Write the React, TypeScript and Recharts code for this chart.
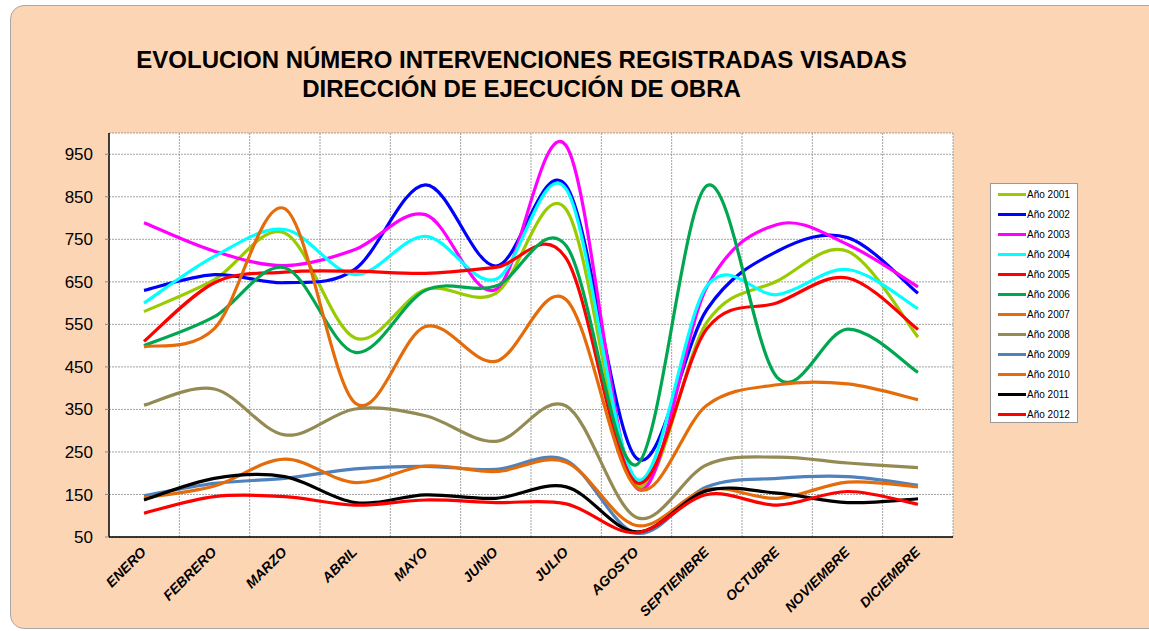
import React from 'react';
import { LineChart, Line, XAxis, YAxis, CartesianGrid, Legend } from 'recharts';

const months = ['ENERO', 'FEBRERO', 'MARZO', 'ABRIL', 'MAYO', 'JUNIO', 'JULIO', 'AGOSTO', 'SEPTIEMBRE', 'OCTUBRE', 'NOVIEMBRE', 'DICIEMBRE'];
const years = ['Año 2001', 'Año 2002', 'Año 2003', 'Año 2004', 'Año 2005', 'Año 2006', 'Año 2007', 'Año 2008', 'Año 2009', 'Año 2010', 'Año 2011', 'Año 2012'];
const colors = ['#99CC00', '#0000FF', '#FF00FF', '#00FFFF', '#FF0000', '#00A650', '#E46C0A', '#948A54', '#4F81BD', '#E46C0A', '#000000', '#FF0000'];

const y2001 = [580, 655, 765, 518, 632, 623, 820, 172, 555, 652, 722, 520];
const y2002 = [630, 667, 648, 680, 878, 687, 876, 235, 585, 722, 754, 623];
const y2003 = [789, 722, 688, 726, 808, 632, 970, 165, 638, 785, 738, 638];
const y2004 = [600, 710, 773, 667, 757, 656, 868, 186, 640, 620, 679, 587];
const y2005 = [510, 648, 673, 675, 670, 684, 705, 178, 540, 601, 659, 538];
const y2006 = [500, 568, 683, 484, 630, 640, 735, 220, 876, 425, 539, 437];
const y2007 = [497, 540, 822, 365, 545, 463, 608, 166, 360, 408, 410, 373];
const y2008 = [360, 398, 290, 351, 335, 275, 358, 96, 220, 238, 224, 213];
const y2009 = [147, 176, 188, 210, 216, 209, 230, 59, 168, 188, 192, 172];
const y2010 = [142, 170, 233, 178, 217, 204, 226, 77, 162, 141, 179, 168];
const y2011 = [137, 188, 192, 131, 149, 141, 168, 62, 159, 153, 131, 140];
const y2012 = [106, 145, 145, 125, 137, 131, 128, 60, 150, 125, 157, 127];

const series = [y2001, y2002, y2003, y2004, y2005, y2006, y2007, y2008, y2009, y2010, y2011, y2012];
const yTicks = [50, 150, 250, 350, 450, 550, 650, 750, 850, 950];

const data = months.map((mes, i) => {
  const row: Record<string, any> = { mes };
  years.forEach((y, j) => { row[y] = series[j][i]; });
  return row;
});

// smooth curve through the points, like Excel's "smoothed line"
const smoothCurve = (context: any) => {
  let pts: number[][] = [];
  return {
    areaStart() {},
    areaEnd() {},
    lineStart() { pts = []; },
    point(x: number, y: number) { pts.push([+x, +y]); },
    lineEnd() {
      if (!pts.length) return;
      context.moveTo(pts[0][0], pts[0][1]);
      for (let i = 0; i < pts.length - 1; i++) {
        const p0 = pts[i - 1] || pts[i];
        const p1 = pts[i];
        const p2 = pts[i + 1];
        const p3 = pts[i + 2] || p2;
        context.bezierCurveTo(
          p1[0] + (p2[0] - p0[0]) / 6, p1[1] + (p2[1] - p0[1]) / 6,
          p2[0] - (p3[0] - p1[0]) / 6, p2[1] - (p3[1] - p1[1]) / 6,
          p2[0], p2[1]
        );
      }
    },
  };
};

const MonthTick = (props: any) => {
  const { x, y, payload } = props;
  const ax = x + 3;
  const ay = y + 8;
  return (
    <text x={ax} y={ay} transform={`rotate(-45 ${ax} ${ay})`} textAnchor="end"
      fontSize={14} fontWeight="bold" fontStyle="italic" fill="#000" fontFamily="'Liberation Sans', Arial, sans-serif">
      {payload.value}
    </text>
  );
};

const LegendBox = (props: any) => {
  const items = props.payload || [];
  return (
    <div style={{ width: 88, height: 240, background: '#fff', border: '1px solid #999', boxSizing: 'border-box', paddingTop: 0, fontFamily: "'Liberation Sans', Arial, sans-serif" }}>
      {items.map((it: any) => (
        <div key={it.value} style={{ display: 'flex', alignItems: 'center', height: 20 }}>
          <div style={{ width: 28, height: 3, background: it.color, marginLeft: 7 }} />
          <span style={{ fontSize: 10, marginLeft: 1, color: '#000' }}>{it.value}</span>
        </div>
      ))}
    </div>
  );
};

export default function App() {
  return (
    <div style={{ position: 'absolute', left: 0, top: 0, width: 1149, height: 631, overflow: 'hidden', background: '#fff' }}>
      <div style={{ position: 'absolute', left: 10, top: 5, width: 1160, height: 622, background: '#FCD5B4', border: '1px solid #a6a6a6', borderRadius: 14 }} />
      <div style={{ position: 'absolute', left: 0, top: 45, width: 1043, textAlign: 'center', fontFamily: "'Liberation Sans', Arial, sans-serif", fontWeight: 'bold', fontSize: 24, lineHeight: '29px', color: '#000' }}>
        EVOLUCION NÚMERO INTERVENCIONES REGISTRADAS VISADAS<br />DIRECCIÓN DE EJECUCIÓN DE OBRA
      </div>
      <div style={{ position: 'absolute', left: 0, top: 0 }}>
        <LineChart width={1149} height={631} data={data} margin={{ top: 133, right: 196, bottom: 0, left: 0 }}>
          <CartesianGrid
            fill="#fff"
            stroke="#8c8c8c"
            strokeDasharray="2 1"
            strokeWidth={0.8}
            horizontalCoordinatesGenerator={({ offset }: any) =>
              [...yTicks, 1000].map((t) => offset.top + (offset.height * (1000 - t)) / 950)}
            verticalCoordinatesGenerator={({ offset }: any) =>
              months.map((_, i) => offset.left + ((i + 1) * offset.width) / months.length)}
          />
          <XAxis
            dataKey="mes"
            interval={0}
            padding={{ left: 35, right: 35 }}
            height={94}
            axisLine={{ stroke: '#000', strokeWidth: 1.5 }}
            tickLine={false}
            tickSize={6}
            tickMargin={2}
            tick={<MonthTick />}
          />
          <YAxis
            type="number"
            domain={[50, 1000]}
            ticks={yTicks}
            width={109}
            axisLine={{ stroke: '#000', strokeWidth: 1.5 }}
            tickLine={{ stroke: '#888' }}
            tickSize={4}
            tickMargin={12}
            tick={{ fontSize: 17, fill: '#000', fontFamily: "'Liberation Sans', Arial, sans-serif" }}
          />
          <Legend
            layout="vertical"
            align="center"
            verticalAlign="middle"
            wrapperStyle={{ left: 990, top: 183, width: 88, height: 240 }}
            content={<LegendBox />}
          />
          {years.map((y, j) => (
            <Line key={y} dataKey={y} name={y} stroke={colors[j]} strokeWidth={3.2} type={smoothCurve as any} dot={false} activeDot={false} isAnimationActive={false} />
          ))}
        </LineChart>
      </div>
    </div>
  );
}
